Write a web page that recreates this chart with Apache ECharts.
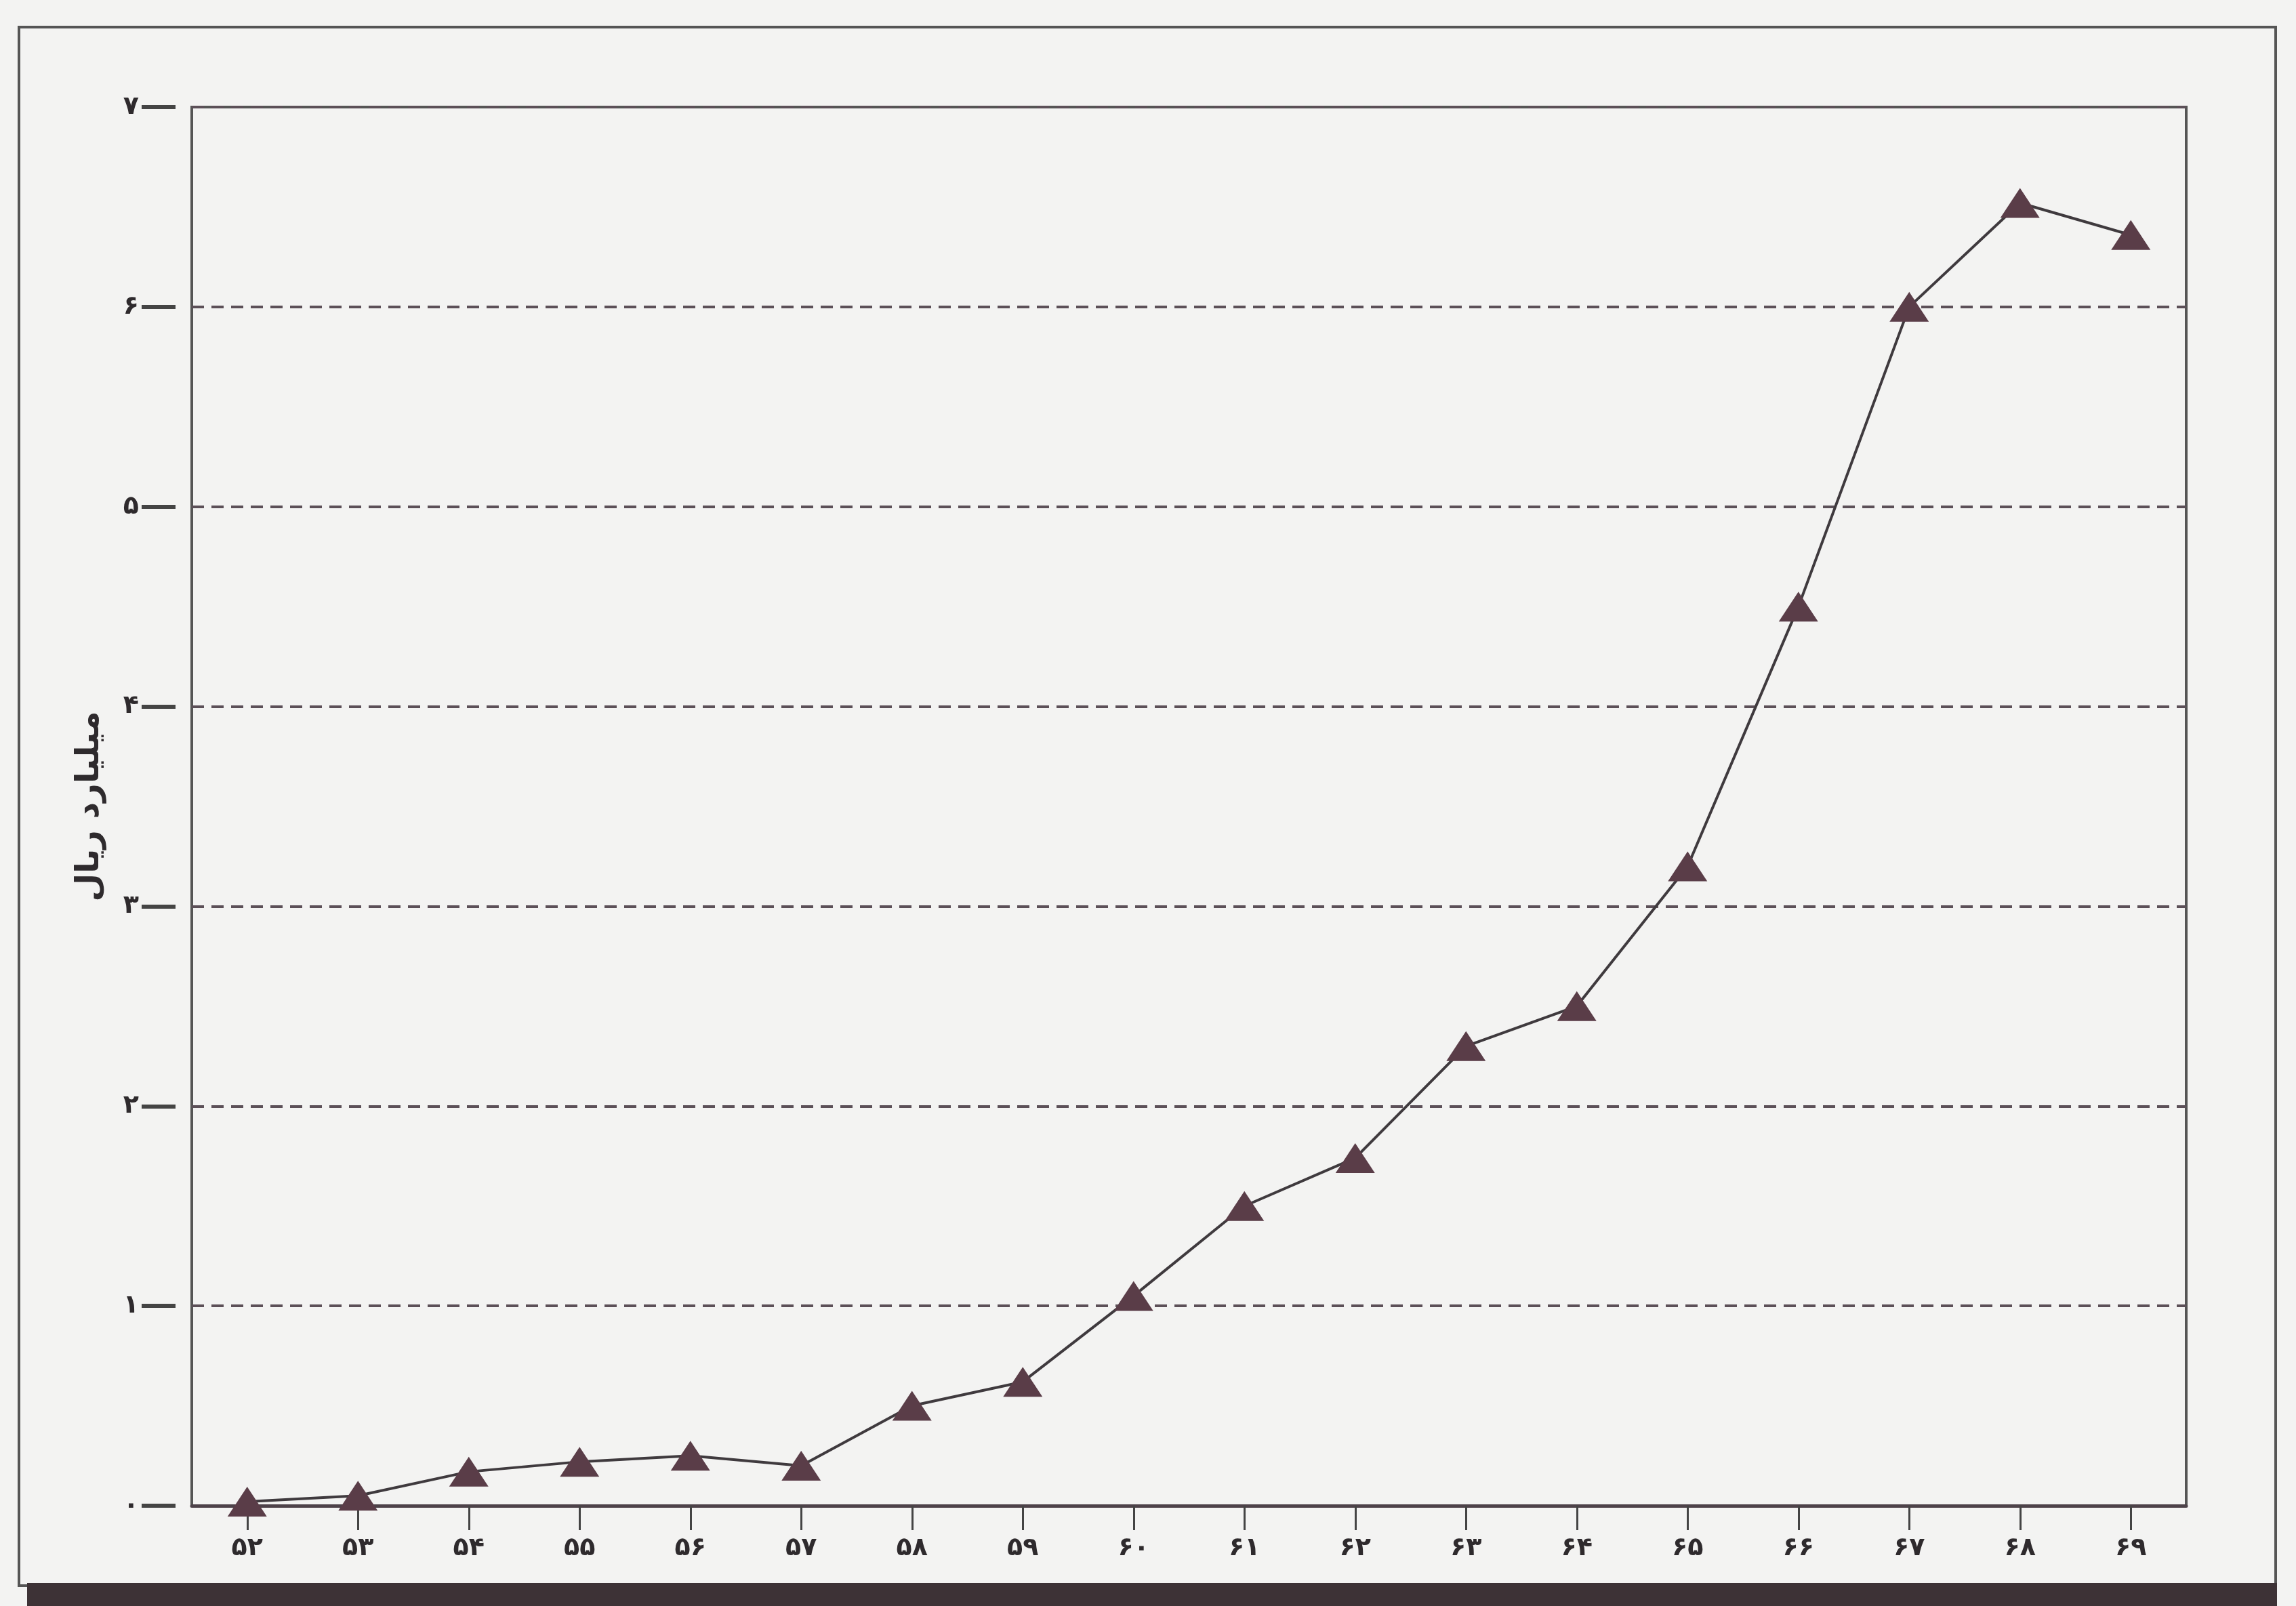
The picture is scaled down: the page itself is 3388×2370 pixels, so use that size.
<!DOCTYPE html>
<html>
<head>
<meta charset="utf-8">
<script src="https://cdn.jsdelivr.net/npm/echarts@6/dist/echarts.min.js"></script>
<style>
html,body{margin:0;padding:0;background:#f3f3f2;}
#c{width:3388px;height:2370px;}
</style>
</head>
<body>
<div id="c"></div>
<script>
// Years (Persian calendar, two-digit) on the category axis
var categories = ['۵۲','۵۳','۵۴','۵۵','۵۶','۵۷','۵۸','۵۹','۶۰','۶۱','۶۲','۶۳','۶۴','۶۵','۶۶','۶۷','۶۸','۶۹'];
// Values in billion rials
var values = [0.02, 0.05, 0.17, 0.22, 0.25, 0.2, 0.5, 0.62, 1.05, 1.5, 1.74, 2.3, 2.5, 3.2, 4.5, 6.0, 6.52, 6.36];
// Y tick labels (Persian digits)
var yTickLabels = ['۰','۱','۲','۳','۴','۵','۶','۷'];
var yAxisTitle = 'میلیارد ریال';

var chart = echarts.init(document.getElementById('c'), null, {renderer:'canvas'});
var ink = '#3f3a3e';
chart.setOption({
  backgroundColor: '#f3f3f2',
  animation: false,
  graphic: [
    {type:'rect', shape:{x:28, y:40, width:3330, height:2300}, style:{fill:'none', stroke:'#555', lineWidth:4}},
    {type:'rect', shape:{x:40, y:2336, width:3320, height:34}, style:{fill:'#3d3236'}}
  ],
  grid: {left:283, right:162, top:158, bottom:148, show:true, borderColor:'#555', borderWidth:4, backgroundColor:'transparent'},
  xAxis: {
    type:'category',
    data: categories,
    boundaryGap: true,
    axisLine: {show:true, lineStyle:{color:'#4d4249', width:5}},
    axisTick: {show:true, alignWithLabel:true, length:36, lineStyle:{color:'#444', width:3}},
    axisLabel: {color:'#2e2a2d', fontFamily:'DejaVu Sans', fontWeight:'bold', fontSize:38, margin:44},
    splitLine: {show:false}
  },
  yAxis: {
    type:'value',
    min:0, max:7, interval:1,
    offset:24,
    name: yAxisTitle,
    nameLocation:'middle',
    nameGap:102,
    nameRotate:90,
    nameTextStyle:{color:'#2e2a2d', fontFamily:'DejaVu Sans', fontWeight:'bold', fontSize:48},
    axisLine: {show:false},
    axisTick: {show:true, length:50, lineStyle:{color:'#444', width:6}},
    axisLabel: {color:'#2e2a2d', fontFamily:'DejaVu Sans', fontWeight:'bold', fontSize:38, margin:54,
      formatter: function(v){ return yTickLabels[Math.round(v)]; }},
    splitLine: {show:true, lineStyle:{color:'#5c5058', width:4, type:[18,11]}}
  },
  series: [{
    type:'line',
    data: values,
    symbol:'triangle',
    symbolSize:[58,44],
    itemStyle:{color:'#5a3d48'},
    lineStyle:{color:ink, width:4},
    z:5
  }]
});
</script>
</body>
</html>
